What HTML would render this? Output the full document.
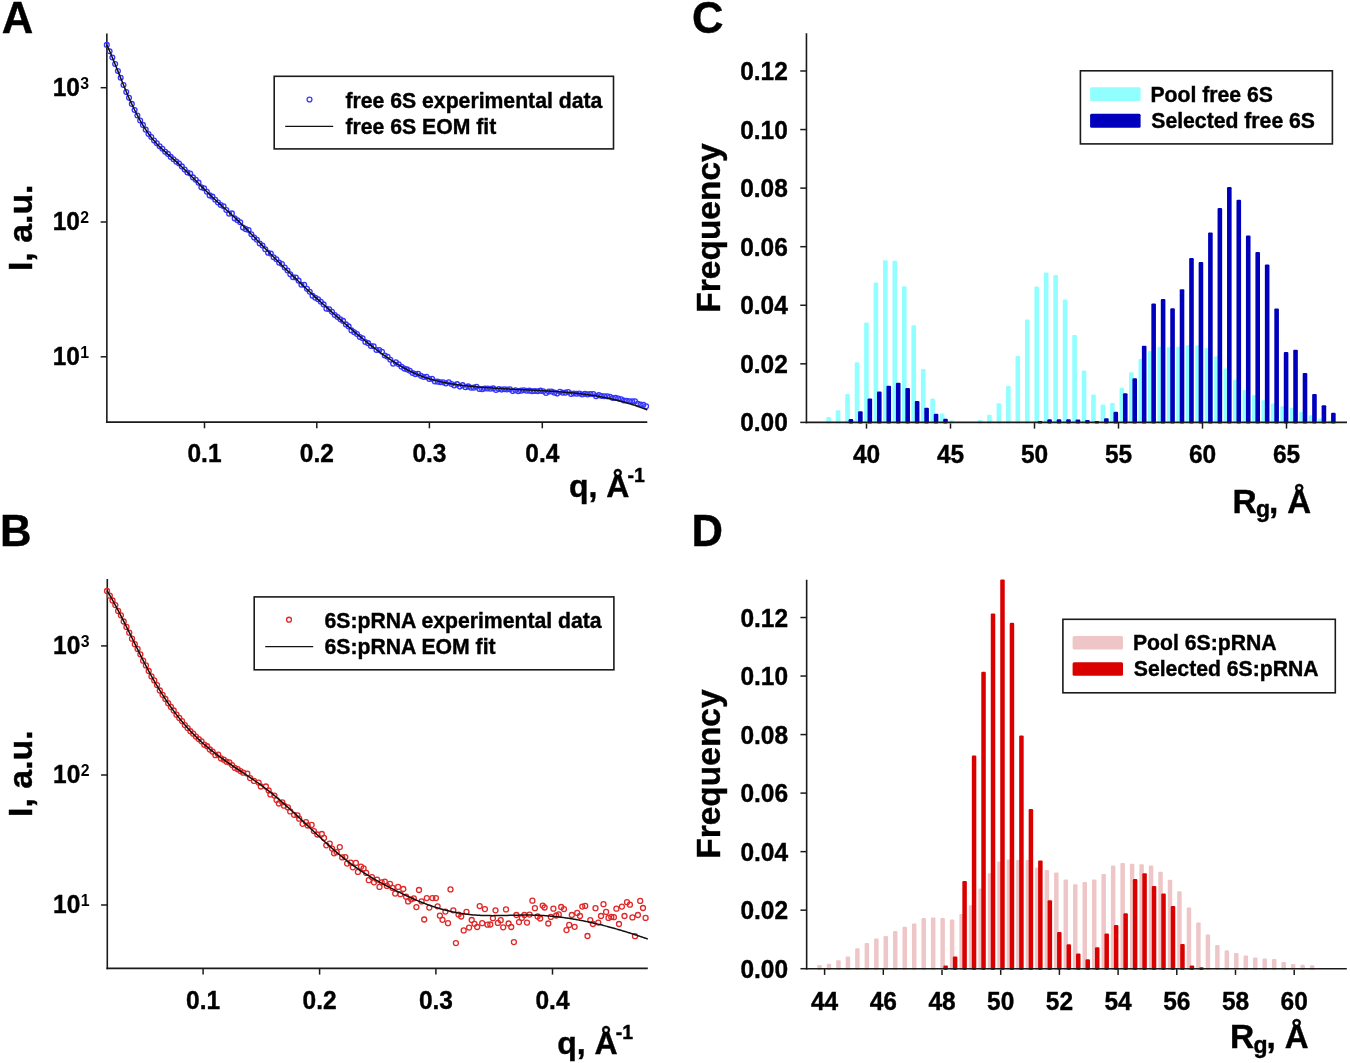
<!DOCTYPE html>
<html><head><meta charset="utf-8"><style>
html,body{margin:0;padding:0;background:#fff;width:1350px;height:1063px;overflow:hidden}
svg{display:block;will-change:transform}
</style></head><body>
<svg width="1350" height="1063" viewBox="0 0 1350 1063">
<rect width="1350" height="1063" fill="#fff"/>
<text x="1.77" y="32.90" font-size="43.6" text-anchor="start" font-family="Liberation Sans, sans-serif" font-weight="bold" stroke="#000" stroke-width="0.4">A</text>
<text x="-0.12" y="545.70" font-size="43.6" text-anchor="start" font-family="Liberation Sans, sans-serif" font-weight="bold" stroke="#000" stroke-width="0.4">B</text>
<text x="691.92" y="33.30" font-size="43.6" text-anchor="start" font-family="Liberation Sans, sans-serif" font-weight="bold" stroke="#000" stroke-width="0.4">C</text>
<text x="691.48" y="545.70" font-size="43.6" text-anchor="start" font-family="Liberation Sans, sans-serif" font-weight="bold" stroke="#000" stroke-width="0.4">D</text>
<line x1="106.85" y1="33.40" x2="106.85" y2="423.00" stroke="#1a1a1a" stroke-width="1.6"/>
<line x1="105.95" y1="422.10" x2="647.30" y2="422.10" stroke="#1a1a1a" stroke-width="1.6"/>
<line x1="204.50" y1="422.10" x2="204.50" y2="428.30" stroke="#1a1a1a" stroke-width="1.5"/>
<text transform="translate(204.50,462.40) scale(0.96,1)" x="0" y="0" font-size="25.5" text-anchor="middle" font-family="Liberation Sans, sans-serif" font-weight="bold" stroke="#000" stroke-width="0.4">0.1</text>
<line x1="316.80" y1="422.10" x2="316.80" y2="428.30" stroke="#1a1a1a" stroke-width="1.5"/>
<text transform="translate(316.80,462.40) scale(0.96,1)" x="0" y="0" font-size="25.5" text-anchor="middle" font-family="Liberation Sans, sans-serif" font-weight="bold" stroke="#000" stroke-width="0.4">0.2</text>
<line x1="429.40" y1="422.10" x2="429.40" y2="428.30" stroke="#1a1a1a" stroke-width="1.5"/>
<text transform="translate(429.40,462.40) scale(0.96,1)" x="0" y="0" font-size="25.5" text-anchor="middle" font-family="Liberation Sans, sans-serif" font-weight="bold" stroke="#000" stroke-width="0.4">0.3</text>
<line x1="542.30" y1="422.10" x2="542.30" y2="428.30" stroke="#1a1a1a" stroke-width="1.5"/>
<text transform="translate(542.30,462.40) scale(0.96,1)" x="0" y="0" font-size="25.5" text-anchor="middle" font-family="Liberation Sans, sans-serif" font-weight="bold" stroke="#000" stroke-width="0.4">0.4</text>
<line x1="100.65" y1="87.70" x2="106.85" y2="87.70" stroke="#1a1a1a" stroke-width="1.5"/>
<text transform="translate(79.85,95.70) scale(0.96,1)" x="0" y="0" font-size="25.5" text-anchor="end" font-family="Liberation Sans, sans-serif" font-weight="bold" stroke="#000" stroke-width="0.4">10</text>
<text transform="translate(80.35,88.60) scale(0.96,1)" x="0" y="0" font-size="16.5" text-anchor="start" font-family="Liberation Sans, sans-serif" font-weight="bold" stroke="#000" stroke-width="0">3</text>
<line x1="100.65" y1="222.00" x2="106.85" y2="222.00" stroke="#1a1a1a" stroke-width="1.5"/>
<text transform="translate(79.85,230.00) scale(0.96,1)" x="0" y="0" font-size="25.5" text-anchor="end" font-family="Liberation Sans, sans-serif" font-weight="bold" stroke="#000" stroke-width="0.4">10</text>
<text transform="translate(80.35,222.90) scale(0.96,1)" x="0" y="0" font-size="16.5" text-anchor="start" font-family="Liberation Sans, sans-serif" font-weight="bold" stroke="#000" stroke-width="0">2</text>
<line x1="100.65" y1="356.80" x2="106.85" y2="356.80" stroke="#1a1a1a" stroke-width="1.5"/>
<text transform="translate(79.85,364.80) scale(0.96,1)" x="0" y="0" font-size="25.5" text-anchor="end" font-family="Liberation Sans, sans-serif" font-weight="bold" stroke="#000" stroke-width="0.4">10</text>
<text transform="translate(80.35,357.70) scale(0.96,1)" x="0" y="0" font-size="16.5" text-anchor="start" font-family="Liberation Sans, sans-serif" font-weight="bold" stroke="#000" stroke-width="0">1</text>
<line x1="107.30" y1="579.10" x2="107.30" y2="969.30" stroke="#1a1a1a" stroke-width="1.6"/>
<line x1="106.40" y1="968.40" x2="647.80" y2="968.40" stroke="#1a1a1a" stroke-width="1.6"/>
<line x1="203.10" y1="968.40" x2="203.10" y2="974.60" stroke="#1a1a1a" stroke-width="1.5"/>
<text transform="translate(203.10,1008.80) scale(0.96,1)" x="0" y="0" font-size="25.5" text-anchor="middle" font-family="Liberation Sans, sans-serif" font-weight="bold" stroke="#000" stroke-width="0.4">0.1</text>
<line x1="319.60" y1="968.40" x2="319.60" y2="974.60" stroke="#1a1a1a" stroke-width="1.5"/>
<text transform="translate(319.60,1008.80) scale(0.96,1)" x="0" y="0" font-size="25.5" text-anchor="middle" font-family="Liberation Sans, sans-serif" font-weight="bold" stroke="#000" stroke-width="0.4">0.2</text>
<line x1="435.90" y1="968.40" x2="435.90" y2="974.60" stroke="#1a1a1a" stroke-width="1.5"/>
<text transform="translate(435.90,1008.80) scale(0.96,1)" x="0" y="0" font-size="25.5" text-anchor="middle" font-family="Liberation Sans, sans-serif" font-weight="bold" stroke="#000" stroke-width="0.4">0.3</text>
<line x1="552.50" y1="968.40" x2="552.50" y2="974.60" stroke="#1a1a1a" stroke-width="1.5"/>
<text transform="translate(552.50,1008.80) scale(0.96,1)" x="0" y="0" font-size="25.5" text-anchor="middle" font-family="Liberation Sans, sans-serif" font-weight="bold" stroke="#000" stroke-width="0.4">0.4</text>
<line x1="101.10" y1="645.90" x2="107.30" y2="645.90" stroke="#1a1a1a" stroke-width="1.5"/>
<text transform="translate(80.30,653.90) scale(0.96,1)" x="0" y="0" font-size="25.5" text-anchor="end" font-family="Liberation Sans, sans-serif" font-weight="bold" stroke="#000" stroke-width="0.4">10</text>
<text transform="translate(80.80,646.80) scale(0.96,1)" x="0" y="0" font-size="16.5" text-anchor="start" font-family="Liberation Sans, sans-serif" font-weight="bold" stroke="#000" stroke-width="0">3</text>
<line x1="101.10" y1="775.00" x2="107.30" y2="775.00" stroke="#1a1a1a" stroke-width="1.5"/>
<text transform="translate(80.30,783.00) scale(0.96,1)" x="0" y="0" font-size="25.5" text-anchor="end" font-family="Liberation Sans, sans-serif" font-weight="bold" stroke="#000" stroke-width="0.4">10</text>
<text transform="translate(80.80,775.90) scale(0.96,1)" x="0" y="0" font-size="16.5" text-anchor="start" font-family="Liberation Sans, sans-serif" font-weight="bold" stroke="#000" stroke-width="0">2</text>
<line x1="101.10" y1="905.00" x2="107.30" y2="905.00" stroke="#1a1a1a" stroke-width="1.5"/>
<text transform="translate(80.30,913.00) scale(0.96,1)" x="0" y="0" font-size="25.5" text-anchor="end" font-family="Liberation Sans, sans-serif" font-weight="bold" stroke="#000" stroke-width="0.4">10</text>
<text transform="translate(80.80,905.90) scale(0.96,1)" x="0" y="0" font-size="16.5" text-anchor="start" font-family="Liberation Sans, sans-serif" font-weight="bold" stroke="#000" stroke-width="0">1</text>
<line x1="806.45" y1="33.20" x2="806.45" y2="423.20" stroke="#1a1a1a" stroke-width="1.6"/>
<line x1="866.50" y1="422.40" x2="866.50" y2="428.60" stroke="#1a1a1a" stroke-width="1.5"/>
<text transform="translate(866.50,463.40) scale(0.96,1)" x="0" y="0" font-size="25.5" text-anchor="middle" font-family="Liberation Sans, sans-serif" font-weight="bold" stroke="#000" stroke-width="0.4">40</text>
<line x1="950.50" y1="422.40" x2="950.50" y2="428.60" stroke="#1a1a1a" stroke-width="1.5"/>
<text transform="translate(950.50,463.40) scale(0.96,1)" x="0" y="0" font-size="25.5" text-anchor="middle" font-family="Liberation Sans, sans-serif" font-weight="bold" stroke="#000" stroke-width="0.4">45</text>
<line x1="1034.50" y1="422.40" x2="1034.50" y2="428.60" stroke="#1a1a1a" stroke-width="1.5"/>
<text transform="translate(1034.50,463.40) scale(0.96,1)" x="0" y="0" font-size="25.5" text-anchor="middle" font-family="Liberation Sans, sans-serif" font-weight="bold" stroke="#000" stroke-width="0.4">50</text>
<line x1="1118.50" y1="422.40" x2="1118.50" y2="428.60" stroke="#1a1a1a" stroke-width="1.5"/>
<text transform="translate(1118.50,463.40) scale(0.96,1)" x="0" y="0" font-size="25.5" text-anchor="middle" font-family="Liberation Sans, sans-serif" font-weight="bold" stroke="#000" stroke-width="0.4">55</text>
<line x1="1202.50" y1="422.40" x2="1202.50" y2="428.60" stroke="#1a1a1a" stroke-width="1.5"/>
<text transform="translate(1202.50,463.40) scale(0.96,1)" x="0" y="0" font-size="25.5" text-anchor="middle" font-family="Liberation Sans, sans-serif" font-weight="bold" stroke="#000" stroke-width="0.4">60</text>
<line x1="1286.50" y1="422.40" x2="1286.50" y2="428.60" stroke="#1a1a1a" stroke-width="1.5"/>
<text transform="translate(1286.50,463.40) scale(0.96,1)" x="0" y="0" font-size="25.5" text-anchor="middle" font-family="Liberation Sans, sans-serif" font-weight="bold" stroke="#000" stroke-width="0.4">65</text>
<line x1="800.25" y1="422.40" x2="806.45" y2="422.40" stroke="#1a1a1a" stroke-width="1.5"/>
<text transform="translate(787.85,431.40) scale(0.96,1)" x="0" y="0" font-size="25.5" text-anchor="end" font-family="Liberation Sans, sans-serif" font-weight="bold" stroke="#000" stroke-width="0.4">0.00</text>
<line x1="800.25" y1="363.83" x2="806.45" y2="363.83" stroke="#1a1a1a" stroke-width="1.5"/>
<text transform="translate(787.85,372.83) scale(0.96,1)" x="0" y="0" font-size="25.5" text-anchor="end" font-family="Liberation Sans, sans-serif" font-weight="bold" stroke="#000" stroke-width="0.4">0.02</text>
<line x1="800.25" y1="305.26" x2="806.45" y2="305.26" stroke="#1a1a1a" stroke-width="1.5"/>
<text transform="translate(787.85,314.26) scale(0.96,1)" x="0" y="0" font-size="25.5" text-anchor="end" font-family="Liberation Sans, sans-serif" font-weight="bold" stroke="#000" stroke-width="0.4">0.04</text>
<line x1="800.25" y1="246.69" x2="806.45" y2="246.69" stroke="#1a1a1a" stroke-width="1.5"/>
<text transform="translate(787.85,255.69) scale(0.96,1)" x="0" y="0" font-size="25.5" text-anchor="end" font-family="Liberation Sans, sans-serif" font-weight="bold" stroke="#000" stroke-width="0.4">0.06</text>
<line x1="800.25" y1="188.12" x2="806.45" y2="188.12" stroke="#1a1a1a" stroke-width="1.5"/>
<text transform="translate(787.85,197.12) scale(0.96,1)" x="0" y="0" font-size="25.5" text-anchor="end" font-family="Liberation Sans, sans-serif" font-weight="bold" stroke="#000" stroke-width="0.4">0.08</text>
<line x1="800.25" y1="129.55" x2="806.45" y2="129.55" stroke="#1a1a1a" stroke-width="1.5"/>
<text transform="translate(787.85,138.55) scale(0.96,1)" x="0" y="0" font-size="25.5" text-anchor="end" font-family="Liberation Sans, sans-serif" font-weight="bold" stroke="#000" stroke-width="0.4">0.10</text>
<line x1="800.25" y1="70.98" x2="806.45" y2="70.98" stroke="#1a1a1a" stroke-width="1.5"/>
<text transform="translate(787.85,79.98) scale(0.96,1)" x="0" y="0" font-size="25.5" text-anchor="end" font-family="Liberation Sans, sans-serif" font-weight="bold" stroke="#000" stroke-width="0.4">0.12</text>
<line x1="806.65" y1="579.80" x2="806.65" y2="969.50" stroke="#1a1a1a" stroke-width="1.6"/>
<line x1="824.60" y1="968.70" x2="824.60" y2="974.90" stroke="#1a1a1a" stroke-width="1.5"/>
<text transform="translate(824.60,1009.70) scale(0.96,1)" x="0" y="0" font-size="25.5" text-anchor="middle" font-family="Liberation Sans, sans-serif" font-weight="bold" stroke="#000" stroke-width="0.4">44</text>
<line x1="883.30" y1="968.70" x2="883.30" y2="974.90" stroke="#1a1a1a" stroke-width="1.5"/>
<text transform="translate(883.30,1009.70) scale(0.96,1)" x="0" y="0" font-size="25.5" text-anchor="middle" font-family="Liberation Sans, sans-serif" font-weight="bold" stroke="#000" stroke-width="0.4">46</text>
<line x1="942.00" y1="968.70" x2="942.00" y2="974.90" stroke="#1a1a1a" stroke-width="1.5"/>
<text transform="translate(942.00,1009.70) scale(0.96,1)" x="0" y="0" font-size="25.5" text-anchor="middle" font-family="Liberation Sans, sans-serif" font-weight="bold" stroke="#000" stroke-width="0.4">48</text>
<line x1="1000.70" y1="968.70" x2="1000.70" y2="974.90" stroke="#1a1a1a" stroke-width="1.5"/>
<text transform="translate(1000.70,1009.70) scale(0.96,1)" x="0" y="0" font-size="25.5" text-anchor="middle" font-family="Liberation Sans, sans-serif" font-weight="bold" stroke="#000" stroke-width="0.4">50</text>
<line x1="1059.40" y1="968.70" x2="1059.40" y2="974.90" stroke="#1a1a1a" stroke-width="1.5"/>
<text transform="translate(1059.40,1009.70) scale(0.96,1)" x="0" y="0" font-size="25.5" text-anchor="middle" font-family="Liberation Sans, sans-serif" font-weight="bold" stroke="#000" stroke-width="0.4">52</text>
<line x1="1118.10" y1="968.70" x2="1118.10" y2="974.90" stroke="#1a1a1a" stroke-width="1.5"/>
<text transform="translate(1118.10,1009.70) scale(0.96,1)" x="0" y="0" font-size="25.5" text-anchor="middle" font-family="Liberation Sans, sans-serif" font-weight="bold" stroke="#000" stroke-width="0.4">54</text>
<line x1="1176.80" y1="968.70" x2="1176.80" y2="974.90" stroke="#1a1a1a" stroke-width="1.5"/>
<text transform="translate(1176.80,1009.70) scale(0.96,1)" x="0" y="0" font-size="25.5" text-anchor="middle" font-family="Liberation Sans, sans-serif" font-weight="bold" stroke="#000" stroke-width="0.4">56</text>
<line x1="1235.50" y1="968.70" x2="1235.50" y2="974.90" stroke="#1a1a1a" stroke-width="1.5"/>
<text transform="translate(1235.50,1009.70) scale(0.96,1)" x="0" y="0" font-size="25.5" text-anchor="middle" font-family="Liberation Sans, sans-serif" font-weight="bold" stroke="#000" stroke-width="0.4">58</text>
<line x1="1294.20" y1="968.70" x2="1294.20" y2="974.90" stroke="#1a1a1a" stroke-width="1.5"/>
<text transform="translate(1294.20,1009.70) scale(0.96,1)" x="0" y="0" font-size="25.5" text-anchor="middle" font-family="Liberation Sans, sans-serif" font-weight="bold" stroke="#000" stroke-width="0.4">60</text>
<line x1="800.45" y1="968.70" x2="806.65" y2="968.70" stroke="#1a1a1a" stroke-width="1.5"/>
<text transform="translate(788.05,977.70) scale(0.96,1)" x="0" y="0" font-size="25.5" text-anchor="end" font-family="Liberation Sans, sans-serif" font-weight="bold" stroke="#000" stroke-width="0.4">0.00</text>
<line x1="800.45" y1="910.17" x2="806.65" y2="910.17" stroke="#1a1a1a" stroke-width="1.5"/>
<text transform="translate(788.05,919.17) scale(0.96,1)" x="0" y="0" font-size="25.5" text-anchor="end" font-family="Liberation Sans, sans-serif" font-weight="bold" stroke="#000" stroke-width="0.4">0.02</text>
<line x1="800.45" y1="851.64" x2="806.65" y2="851.64" stroke="#1a1a1a" stroke-width="1.5"/>
<text transform="translate(788.05,860.64) scale(0.96,1)" x="0" y="0" font-size="25.5" text-anchor="end" font-family="Liberation Sans, sans-serif" font-weight="bold" stroke="#000" stroke-width="0.4">0.04</text>
<line x1="800.45" y1="793.11" x2="806.65" y2="793.11" stroke="#1a1a1a" stroke-width="1.5"/>
<text transform="translate(788.05,802.11) scale(0.96,1)" x="0" y="0" font-size="25.5" text-anchor="end" font-family="Liberation Sans, sans-serif" font-weight="bold" stroke="#000" stroke-width="0.4">0.06</text>
<line x1="800.45" y1="734.58" x2="806.65" y2="734.58" stroke="#1a1a1a" stroke-width="1.5"/>
<text transform="translate(788.05,743.58) scale(0.96,1)" x="0" y="0" font-size="25.5" text-anchor="end" font-family="Liberation Sans, sans-serif" font-weight="bold" stroke="#000" stroke-width="0.4">0.08</text>
<line x1="800.45" y1="676.05" x2="806.65" y2="676.05" stroke="#1a1a1a" stroke-width="1.5"/>
<text transform="translate(788.05,685.05) scale(0.96,1)" x="0" y="0" font-size="25.5" text-anchor="end" font-family="Liberation Sans, sans-serif" font-weight="bold" stroke="#000" stroke-width="0.4">0.10</text>
<line x1="800.45" y1="617.52" x2="806.65" y2="617.52" stroke="#1a1a1a" stroke-width="1.5"/>
<text transform="translate(788.05,626.52) scale(0.96,1)" x="0" y="0" font-size="25.5" text-anchor="end" font-family="Liberation Sans, sans-serif" font-weight="bold" stroke="#000" stroke-width="0.4">0.12</text>
<text transform="translate(32,271.1) rotate(-90)" font-size="33.9" font-family="Liberation Sans, sans-serif" font-weight="bold" stroke="#000" stroke-width="0.4">I, a.u.</text>
<text transform="translate(32,816.9) rotate(-90)" font-size="33.9" font-family="Liberation Sans, sans-serif" font-weight="bold" stroke="#000" stroke-width="0.4">I, a.u.</text>
<text transform="translate(720.4,312.7) rotate(-90)" font-size="33.5" font-family="Liberation Sans, sans-serif" font-weight="bold" stroke="#000" stroke-width="0.4">Frequency</text>
<text transform="translate(720.4,858.8) rotate(-90)" font-size="33.5" font-family="Liberation Sans, sans-serif" font-weight="bold" stroke="#000" stroke-width="0.4">Frequency</text>
<text x="569.00" y="497.40" font-size="32" text-anchor="start" font-family="Liberation Sans, sans-serif" font-weight="bold" stroke="#000" stroke-width="0.4">q, Å</text>
<text x="627.50" y="481.90" font-size="19.5" text-anchor="start" font-family="Liberation Sans, sans-serif" font-weight="bold" stroke="#000" stroke-width="0.4">-1</text>
<text x="557.20" y="1054.00" font-size="32" text-anchor="start" font-family="Liberation Sans, sans-serif" font-weight="bold" stroke="#000" stroke-width="0.4">q, Å</text>
<text x="615.70" y="1038.50" font-size="19.5" text-anchor="start" font-family="Liberation Sans, sans-serif" font-weight="bold" stroke="#000" stroke-width="0.4">-1</text>
<text x="1232.46" y="512.50" font-size="33.5" text-anchor="start" font-family="Liberation Sans, sans-serif" font-weight="bold" stroke="#000" stroke-width="0.4">R</text>
<text x="1256.06" y="517.40" font-size="23" text-anchor="start" font-family="Liberation Sans, sans-serif" font-weight="bold" stroke="#000" stroke-width="0.4">g</text>
<text x="1269.02" y="512.50" font-size="33.5" text-anchor="start" font-family="Liberation Sans, sans-serif" font-weight="bold" stroke="#000" stroke-width="0.4">,</text>
<text x="1287.17" y="512.50" font-size="33" text-anchor="start" font-family="Liberation Sans, sans-serif" font-weight="bold" stroke="#000" stroke-width="0.4">Å</text>
<text x="1229.96" y="1048.40" font-size="33.5" text-anchor="start" font-family="Liberation Sans, sans-serif" font-weight="bold" stroke="#000" stroke-width="0.4">R</text>
<text x="1253.56" y="1053.30" font-size="23" text-anchor="start" font-family="Liberation Sans, sans-serif" font-weight="bold" stroke="#000" stroke-width="0.4">g</text>
<text x="1266.52" y="1048.40" font-size="33.5" text-anchor="start" font-family="Liberation Sans, sans-serif" font-weight="bold" stroke="#000" stroke-width="0.4">,</text>
<text x="1284.67" y="1048.40" font-size="33" text-anchor="start" font-family="Liberation Sans, sans-serif" font-weight="bold" stroke="#000" stroke-width="0.4">Å</text>
<rect x="274.20" y="76.30" width="339.30" height="72.60" fill="none" stroke="#1a1a1a" stroke-width="1.6"/>
<circle cx="309.5" cy="99.5" r="2.45" fill="none" stroke="#3c3cff" stroke-width="1.3"/>
<line x1="285.20" y1="126.40" x2="333.20" y2="126.40" stroke="#111" stroke-width="1.3"/>
<text x="345.54" y="107.80" font-size="21.2" text-anchor="start" font-family="Liberation Sans, sans-serif" font-weight="bold" stroke="#000" stroke-width="0.4">free 6S experimental data</text>
<text x="345.54" y="133.60" font-size="21.2" text-anchor="start" font-family="Liberation Sans, sans-serif" font-weight="bold" stroke="#000" stroke-width="0.4">free 6S EOM fit</text>
<rect x="254.20" y="596.90" width="359.70" height="72.90" fill="none" stroke="#1a1a1a" stroke-width="1.6"/>
<circle cx="289.0" cy="619.7" r="2.45" fill="none" stroke="#e02828" stroke-width="1.3"/>
<line x1="265.20" y1="646.70" x2="313.20" y2="646.70" stroke="#111" stroke-width="1.3"/>
<text x="324.52" y="627.80" font-size="21.2" text-anchor="start" font-family="Liberation Sans, sans-serif" font-weight="bold" stroke="#000" stroke-width="0.4">6S:pRNA experimental data</text>
<text x="324.52" y="653.90" font-size="21.2" text-anchor="start" font-family="Liberation Sans, sans-serif" font-weight="bold" stroke="#000" stroke-width="0.4">6S:pRNA EOM fit</text>
<rect x="1080.40" y="70.80" width="252.00" height="73.10" fill="none" stroke="#1a1a1a" stroke-width="1.6"/>
<rect x="1090.1" y="87.2" width="50.5" height="13.9" rx="1.5" fill="#91ffff"/>
<rect x="1090.1" y="113.8" width="50.5" height="14" rx="1.5" fill="#0000bc"/>
<text x="1150.48" y="101.60" font-size="21.2" text-anchor="start" font-family="Liberation Sans, sans-serif" font-weight="bold" stroke="#000" stroke-width="0.4">Pool free 6S</text>
<text x="1151.29" y="127.80" font-size="21.2" text-anchor="start" font-family="Liberation Sans, sans-serif" font-weight="bold" stroke="#000" stroke-width="0.4">Selected free 6S</text>
<rect x="1062.90" y="619.30" width="272.40" height="73.50" fill="none" stroke="#1a1a1a" stroke-width="1.6"/>
<rect x="1072.6" y="635.9" width="50.4" height="13.5" rx="1.5" fill="#efc6c7"/>
<rect x="1072.6" y="662.3" width="50.4" height="13.5" rx="1.5" fill="#da0000"/>
<text x="1132.98" y="650.00" font-size="21.2" text-anchor="start" font-family="Liberation Sans, sans-serif" font-weight="bold" stroke="#000" stroke-width="0.4">Pool 6S:pRNA</text>
<text x="1133.79" y="676.30" font-size="21.2" text-anchor="start" font-family="Liberation Sans, sans-serif" font-weight="bold" stroke="#000" stroke-width="0.4">Selected 6S:pRNA</text>
<g fill="none" stroke="#3434ff" stroke-width="1.3"><circle cx="106.80" cy="44.91" r="2.4"/><circle cx="109.58" cy="51.18" r="2.4"/><circle cx="112.36" cy="57.48" r="2.4"/><circle cx="115.14" cy="64.01" r="2.4"/><circle cx="117.92" cy="71.04" r="2.4"/><circle cx="120.70" cy="77.76" r="2.4"/><circle cx="123.48" cy="84.97" r="2.4"/><circle cx="126.26" cy="92.09" r="2.4"/><circle cx="129.04" cy="97.85" r="2.4"/><circle cx="131.82" cy="103.90" r="2.4"/><circle cx="134.60" cy="110.07" r="2.4"/><circle cx="137.38" cy="115.48" r="2.4"/><circle cx="140.16" cy="120.51" r="2.4"/><circle cx="142.94" cy="124.92" r="2.4"/><circle cx="145.72" cy="129.65" r="2.4"/><circle cx="148.50" cy="133.97" r="2.4"/><circle cx="151.28" cy="136.95" r="2.4"/><circle cx="154.06" cy="140.62" r="2.4"/><circle cx="156.84" cy="143.20" r="2.4"/><circle cx="159.62" cy="146.26" r="2.4"/><circle cx="162.40" cy="148.73" r="2.4"/><circle cx="165.18" cy="151.83" r="2.4"/><circle cx="167.96" cy="153.92" r="2.4"/><circle cx="170.74" cy="156.89" r="2.4"/><circle cx="173.52" cy="159.29" r="2.4"/><circle cx="176.30" cy="161.67" r="2.4"/><circle cx="179.08" cy="163.43" r="2.4"/><circle cx="181.86" cy="166.41" r="2.4"/><circle cx="184.64" cy="169.58" r="2.4"/><circle cx="187.42" cy="172.47" r="2.4"/><circle cx="190.20" cy="173.58" r="2.4"/><circle cx="192.98" cy="177.41" r="2.4"/><circle cx="195.76" cy="179.71" r="2.4"/><circle cx="198.54" cy="182.67" r="2.4"/><circle cx="201.32" cy="187.33" r="2.4"/><circle cx="204.10" cy="188.24" r="2.4"/><circle cx="206.88" cy="191.77" r="2.4"/><circle cx="209.66" cy="195.41" r="2.4"/><circle cx="212.44" cy="196.63" r="2.4"/><circle cx="215.22" cy="199.73" r="2.4"/><circle cx="218.00" cy="202.52" r="2.4"/><circle cx="220.78" cy="205.01" r="2.4"/><circle cx="223.56" cy="206.22" r="2.4"/><circle cx="226.34" cy="210.02" r="2.4"/><circle cx="229.12" cy="213.80" r="2.4"/><circle cx="231.90" cy="213.42" r="2.4"/><circle cx="234.68" cy="218.39" r="2.4"/><circle cx="237.46" cy="220.27" r="2.4"/><circle cx="240.24" cy="222.20" r="2.4"/><circle cx="243.02" cy="227.60" r="2.4"/><circle cx="245.80" cy="229.17" r="2.4"/><circle cx="248.58" cy="230.05" r="2.4"/><circle cx="251.36" cy="234.20" r="2.4"/><circle cx="254.14" cy="237.60" r="2.4"/><circle cx="256.92" cy="239.73" r="2.4"/><circle cx="259.70" cy="243.49" r="2.4"/><circle cx="262.48" cy="245.61" r="2.4"/><circle cx="265.26" cy="249.19" r="2.4"/><circle cx="268.04" cy="252.80" r="2.4"/><circle cx="270.82" cy="253.50" r="2.4"/><circle cx="273.60" cy="257.18" r="2.4"/><circle cx="276.38" cy="259.30" r="2.4"/><circle cx="279.16" cy="262.65" r="2.4"/><circle cx="281.94" cy="264.09" r="2.4"/><circle cx="284.72" cy="267.43" r="2.4"/><circle cx="287.50" cy="270.53" r="2.4"/><circle cx="290.28" cy="274.33" r="2.4"/><circle cx="293.06" cy="277.26" r="2.4"/><circle cx="295.84" cy="277.46" r="2.4"/><circle cx="298.62" cy="280.64" r="2.4"/><circle cx="301.40" cy="284.72" r="2.4"/><circle cx="304.18" cy="284.71" r="2.4"/><circle cx="306.96" cy="288.84" r="2.4"/><circle cx="309.74" cy="291.81" r="2.4"/><circle cx="312.52" cy="295.74" r="2.4"/><circle cx="315.30" cy="297.74" r="2.4"/><circle cx="318.08" cy="299.28" r="2.4"/><circle cx="320.86" cy="301.78" r="2.4"/><circle cx="323.64" cy="304.42" r="2.4"/><circle cx="326.42" cy="308.71" r="2.4"/><circle cx="329.20" cy="309.26" r="2.4"/><circle cx="331.98" cy="311.87" r="2.4"/><circle cx="334.76" cy="315.00" r="2.4"/><circle cx="337.54" cy="316.99" r="2.4"/><circle cx="340.32" cy="319.37" r="2.4"/><circle cx="343.10" cy="320.89" r="2.4"/><circle cx="345.88" cy="324.42" r="2.4"/><circle cx="348.66" cy="326.40" r="2.4"/><circle cx="351.44" cy="330.41" r="2.4"/><circle cx="354.22" cy="332.28" r="2.4"/><circle cx="357.00" cy="333.96" r="2.4"/><circle cx="359.78" cy="336.99" r="2.4"/><circle cx="362.56" cy="338.29" r="2.4"/><circle cx="365.34" cy="341.96" r="2.4"/><circle cx="368.12" cy="343.15" r="2.4"/><circle cx="370.90" cy="345.95" r="2.4"/><circle cx="373.68" cy="346.24" r="2.4"/><circle cx="376.46" cy="350.01" r="2.4"/><circle cx="379.24" cy="350.06" r="2.4"/><circle cx="382.02" cy="351.76" r="2.4"/><circle cx="384.80" cy="355.48" r="2.4"/><circle cx="387.58" cy="356.82" r="2.4"/><circle cx="390.36" cy="359.77" r="2.4"/><circle cx="393.14" cy="363.68" r="2.4"/><circle cx="395.92" cy="362.37" r="2.4"/><circle cx="398.70" cy="364.28" r="2.4"/><circle cx="401.48" cy="366.74" r="2.4"/><circle cx="404.26" cy="368.60" r="2.4"/><circle cx="407.04" cy="369.42" r="2.4"/><circle cx="409.82" cy="370.81" r="2.4"/><circle cx="412.60" cy="373.07" r="2.4"/><circle cx="415.38" cy="374.15" r="2.4"/><circle cx="418.16" cy="373.77" r="2.4"/><circle cx="420.94" cy="375.83" r="2.4"/><circle cx="423.72" cy="376.97" r="2.4"/><circle cx="426.50" cy="376.84" r="2.4"/><circle cx="429.28" cy="379.04" r="2.4"/><circle cx="432.06" cy="378.84" r="2.4"/><circle cx="434.84" cy="381.57" r="2.4"/><circle cx="437.62" cy="381.63" r="2.4"/><circle cx="440.40" cy="382.32" r="2.4"/><circle cx="443.18" cy="382.37" r="2.4"/><circle cx="445.96" cy="383.54" r="2.4"/><circle cx="448.74" cy="382.30" r="2.4"/><circle cx="451.52" cy="384.04" r="2.4"/><circle cx="454.30" cy="385.52" r="2.4"/><circle cx="457.08" cy="384.17" r="2.4"/><circle cx="459.86" cy="386.62" r="2.4"/><circle cx="462.64" cy="385.15" r="2.4"/><circle cx="465.42" cy="387.22" r="2.4"/><circle cx="468.20" cy="386.40" r="2.4"/><circle cx="470.98" cy="387.82" r="2.4"/><circle cx="473.76" cy="387.64" r="2.4"/><circle cx="476.54" cy="386.73" r="2.4"/><circle cx="479.32" cy="388.93" r="2.4"/><circle cx="482.10" cy="389.29" r="2.4"/><circle cx="484.88" cy="388.46" r="2.4"/><circle cx="487.66" cy="388.52" r="2.4"/><circle cx="490.44" cy="388.80" r="2.4"/><circle cx="493.22" cy="388.42" r="2.4"/><circle cx="496.00" cy="390.05" r="2.4"/><circle cx="498.78" cy="389.08" r="2.4"/><circle cx="501.56" cy="389.58" r="2.4"/><circle cx="504.34" cy="389.22" r="2.4"/><circle cx="507.12" cy="389.49" r="2.4"/><circle cx="509.90" cy="389.19" r="2.4"/><circle cx="512.68" cy="391.11" r="2.4"/><circle cx="515.46" cy="390.26" r="2.4"/><circle cx="518.24" cy="391.18" r="2.4"/><circle cx="521.02" cy="390.65" r="2.4"/><circle cx="523.80" cy="390.29" r="2.4"/><circle cx="526.58" cy="390.68" r="2.4"/><circle cx="529.36" cy="390.65" r="2.4"/><circle cx="532.14" cy="391.19" r="2.4"/><circle cx="534.92" cy="391.06" r="2.4"/><circle cx="537.70" cy="391.25" r="2.4"/><circle cx="540.48" cy="390.64" r="2.4"/><circle cx="543.26" cy="391.19" r="2.4"/><circle cx="546.04" cy="393.07" r="2.4"/><circle cx="548.82" cy="391.60" r="2.4"/><circle cx="551.60" cy="391.51" r="2.4"/><circle cx="554.38" cy="392.66" r="2.4"/><circle cx="557.16" cy="393.60" r="2.4"/><circle cx="559.94" cy="391.80" r="2.4"/><circle cx="562.72" cy="392.79" r="2.4"/><circle cx="565.50" cy="392.63" r="2.4"/><circle cx="568.28" cy="391.98" r="2.4"/><circle cx="571.06" cy="393.89" r="2.4"/><circle cx="573.84" cy="393.54" r="2.4"/><circle cx="576.62" cy="393.80" r="2.4"/><circle cx="579.40" cy="393.44" r="2.4"/><circle cx="582.18" cy="394.45" r="2.4"/><circle cx="584.96" cy="393.92" r="2.4"/><circle cx="587.74" cy="394.39" r="2.4"/><circle cx="590.52" cy="393.94" r="2.4"/><circle cx="593.30" cy="394.10" r="2.4"/><circle cx="596.08" cy="396.15" r="2.4"/><circle cx="598.86" cy="395.15" r="2.4"/><circle cx="601.64" cy="396.06" r="2.4"/><circle cx="604.42" cy="396.22" r="2.4"/><circle cx="607.20" cy="396.35" r="2.4"/><circle cx="609.98" cy="396.75" r="2.4"/><circle cx="612.76" cy="398.03" r="2.4"/><circle cx="615.54" cy="397.89" r="2.4"/><circle cx="618.32" cy="398.54" r="2.4"/><circle cx="621.10" cy="399.22" r="2.4"/><circle cx="623.88" cy="400.57" r="2.4"/><circle cx="626.66" cy="400.81" r="2.4"/><circle cx="629.44" cy="401.22" r="2.4"/><circle cx="632.22" cy="401.22" r="2.4"/><circle cx="635.00" cy="401.35" r="2.4"/><circle cx="637.78" cy="403.72" r="2.4"/><circle cx="640.56" cy="404.54" r="2.4"/><circle cx="643.34" cy="404.74" r="2.4"/><circle cx="646.12" cy="406.22" r="2.4"/></g>
<path d="M106.90,45.12 L107.90,47.30 L108.90,49.53 L109.90,51.81 L110.90,54.13 L111.90,56.48 L112.90,58.87 L113.90,61.29 L114.90,63.73 L115.90,66.19 L116.90,68.66 L117.90,71.15 L118.90,73.63 L119.90,76.12 L120.90,78.60 L121.90,81.07 L122.90,83.53 L123.90,85.97 L124.90,88.38 L125.90,90.77 L126.90,93.12 L127.90,95.43 L128.90,97.71 L129.90,99.94 L130.90,102.14 L131.90,104.29 L132.90,106.40 L133.90,108.47 L134.90,110.50 L135.90,112.49 L136.90,114.43 L137.90,116.33 L138.90,118.19 L139.90,120.00 L140.90,121.77 L141.90,123.50 L142.90,125.18 L143.90,126.81 L144.90,128.40 L145.90,129.94 L146.90,131.43 L147.90,132.88 L148.90,134.28 L149.90,135.63 L150.90,136.94 L151.90,138.20 L152.90,139.42 L153.90,140.60 L154.90,141.74 L155.90,142.85 L156.90,143.93 L157.90,144.97 L158.90,145.99 L159.90,146.99 L160.90,147.96 L161.90,148.91 L162.90,149.84 L163.90,150.76 L164.90,151.66 L165.90,152.55 L166.90,153.44 L167.90,154.32 L168.90,155.19 L169.90,156.06 L170.90,156.93 L171.90,157.80 L172.90,158.68 L173.90,159.57 L174.90,160.47 L175.90,161.37 L176.90,162.29 L177.90,163.21 L178.90,164.15 L179.90,165.08 L180.90,166.03 L181.90,166.99 L182.90,167.95 L183.90,168.91 L184.90,169.88 L185.90,170.86 L186.90,171.84 L187.90,172.83 L188.90,173.82 L189.90,174.81 L190.90,175.81 L191.90,176.81 L192.90,177.81 L193.90,178.82 L194.90,179.82 L195.90,180.83 L196.90,181.83 L197.90,182.84 L198.90,183.84 L199.90,184.85 L200.90,185.85 L201.90,186.85 L202.90,187.85 L203.90,188.85 L204.90,189.85 L205.90,190.84 L206.90,191.83 L207.90,192.81 L208.90,193.79 L209.90,194.76 L210.90,195.73 L211.90,196.69 L212.90,197.65 L213.90,198.60 L214.90,199.54 L215.90,200.47 L216.90,201.40 L217.90,202.32 L218.90,203.24 L219.90,204.15 L220.90,205.05 L221.90,205.95 L222.90,206.85 L223.90,207.75 L224.90,208.65 L225.90,209.55 L226.90,210.44 L227.90,211.34 L228.90,212.24 L229.90,213.15 L230.90,214.05 L231.90,214.97 L232.90,215.88 L233.90,216.81 L234.90,217.74 L235.90,218.67 L236.90,219.62 L237.90,220.57 L238.90,221.54 L239.90,222.51 L240.90,223.49 L241.90,224.48 L242.90,225.48 L243.90,226.48 L244.90,227.49 L245.90,228.51 L246.90,229.53 L247.90,230.55 L248.90,231.58 L249.90,232.62 L250.90,233.65 L251.90,234.69 L252.90,235.73 L253.90,236.77 L254.90,237.81 L255.90,238.85 L256.90,239.90 L257.90,240.94 L258.90,241.97 L259.90,243.01 L260.90,244.05 L261.90,245.08 L262.90,246.11 L263.90,247.13 L264.90,248.16 L265.90,249.18 L266.90,250.20 L267.90,251.22 L268.90,252.23 L269.90,253.25 L270.90,254.26 L271.90,255.27 L272.90,256.28 L273.90,257.28 L274.90,258.28 L275.90,259.28 L276.90,260.28 L277.90,261.28 L278.90,262.27 L279.90,263.26 L280.90,264.25 L281.90,265.24 L282.90,266.22 L283.90,267.20 L284.90,268.19 L285.90,269.16 L286.90,270.14 L287.90,271.12 L288.90,272.09 L289.90,273.06 L290.90,274.03 L291.90,274.99 L292.90,275.96 L293.90,276.92 L294.90,277.88 L295.90,278.84 L296.90,279.79 L297.90,280.75 L298.90,281.70 L299.90,282.65 L300.90,283.60 L301.90,284.55 L302.90,285.49 L303.90,286.43 L304.90,287.38 L305.90,288.31 L306.90,289.25 L307.90,290.19 L308.90,291.12 L309.90,292.05 L310.90,292.98 L311.90,293.91 L312.90,294.84 L313.90,295.76 L314.90,296.68 L315.90,297.60 L316.90,298.52 L317.90,299.44 L318.90,300.36 L319.90,301.27 L320.90,302.18 L321.90,303.09 L322.90,304.00 L323.90,304.91 L324.90,305.81 L325.90,306.72 L326.90,307.62 L327.90,308.52 L328.90,309.42 L329.90,310.31 L330.90,311.21 L331.90,312.10 L332.90,312.99 L333.90,313.88 L334.90,314.77 L335.90,315.66 L336.90,316.55 L337.90,317.43 L338.90,318.31 L339.90,319.19 L340.90,320.07 L341.90,320.95 L342.90,321.83 L343.90,322.70 L344.90,323.58 L345.90,324.45 L346.90,325.32 L347.90,326.19 L348.90,327.06 L349.90,327.92 L350.90,328.78 L351.90,329.64 L352.90,330.50 L353.90,331.35 L354.90,332.21 L355.90,333.06 L356.90,333.90 L357.90,334.75 L358.90,335.59 L359.90,336.42 L360.90,337.26 L361.90,338.08 L362.90,338.91 L363.90,339.73 L364.90,340.55 L365.90,341.36 L366.90,342.17 L367.90,342.98 L368.90,343.78 L369.90,344.57 L370.90,345.36 L371.90,346.15 L372.90,346.93 L373.90,347.71 L374.90,348.48 L375.90,349.24 L376.90,350.00 L377.90,350.75 L378.90,351.50 L379.90,352.24 L380.90,352.98 L381.90,353.71 L382.90,354.43 L383.90,355.15 L384.90,355.85 L385.90,356.56 L386.90,357.25 L387.90,357.94 L388.90,358.62 L389.90,359.30 L390.90,359.97 L391.90,360.63 L392.90,361.28 L393.90,361.92 L394.90,362.56 L395.90,363.19 L396.90,363.81 L397.90,364.42 L398.90,365.02 L399.90,365.61 L400.90,366.20 L401.90,366.78 L402.90,367.35 L403.90,367.90 L404.90,368.45 L405.90,368.99 L406.90,369.53 L407.90,370.05 L408.90,370.56 L409.90,371.06 L410.90,371.55 L411.90,372.03 L412.90,372.50 L413.90,372.96 L414.90,373.41 L415.90,373.85 L416.90,374.28 L417.90,374.70 L418.90,375.11 L419.90,375.51 L420.90,375.89 L421.90,376.27 L422.90,376.64 L423.90,377.00 L424.90,377.35 L425.90,377.69 L426.90,378.02 L427.90,378.35 L428.90,378.66 L429.90,378.97 L430.90,379.26 L431.90,379.55 L432.90,379.83 L433.90,380.11 L434.90,380.37 L435.90,380.63 L436.90,380.88 L437.90,381.13 L438.90,381.37 L439.90,381.60 L440.90,381.82 L441.90,382.04 L442.90,382.25 L443.90,382.45 L444.90,382.65 L445.90,382.85 L446.90,383.03 L447.90,383.21 L448.90,383.39 L449.90,383.56 L450.90,383.73 L451.90,383.89 L452.90,384.05 L453.90,384.20 L454.90,384.35 L455.90,384.49 L456.90,384.63 L457.90,384.77 L458.90,384.90 L459.90,385.03 L460.90,385.16 L461.90,385.28 L462.90,385.40 L463.90,385.52 L464.90,385.63 L465.90,385.74 L466.90,385.85 L467.90,385.96 L468.90,386.07 L469.90,386.17 L470.90,386.27 L471.90,386.37 L472.90,386.47 L473.90,386.56 L474.90,386.66 L475.90,386.75 L476.90,386.84 L477.90,386.93 L478.90,387.02 L479.90,387.10 L480.90,387.19 L481.90,387.27 L482.90,387.35 L483.90,387.43 L484.90,387.51 L485.90,387.58 L486.90,387.66 L487.90,387.73 L488.90,387.80 L489.90,387.87 L490.90,387.94 L491.90,388.01 L492.90,388.08 L493.90,388.15 L494.90,388.21 L495.90,388.28 L496.90,388.34 L497.90,388.40 L498.90,388.46 L499.90,388.52 L500.90,388.58 L501.90,388.64 L502.90,388.70 L503.90,388.75 L504.90,388.81 L505.90,388.87 L506.90,388.92 L507.90,388.97 L508.90,389.03 L509.90,389.08 L510.90,389.13 L511.90,389.19 L512.90,389.24 L513.90,389.29 L514.90,389.34 L515.90,389.39 L516.90,389.44 L517.90,389.49 L518.90,389.54 L519.90,389.59 L520.90,389.63 L521.90,389.68 L522.90,389.73 L523.90,389.78 L524.90,389.83 L525.90,389.88 L526.90,389.93 L527.90,389.97 L528.90,390.02 L529.90,390.07 L530.90,390.12 L531.90,390.17 L532.90,390.22 L533.90,390.27 L534.90,390.32 L535.90,390.37 L536.90,390.42 L537.90,390.47 L538.90,390.52 L539.90,390.57 L540.90,390.63 L541.90,390.68 L542.90,390.73 L543.90,390.79 L544.90,390.85 L545.90,390.90 L546.90,390.96 L547.90,391.02 L548.90,391.08 L549.90,391.14 L550.90,391.20 L551.90,391.26 L552.90,391.33 L553.90,391.39 L554.90,391.46 L555.90,391.53 L556.90,391.60 L557.90,391.67 L558.90,391.74 L559.90,391.82 L560.90,391.89 L561.90,391.97 L562.90,392.05 L563.90,392.13 L564.90,392.21 L565.90,392.30 L566.90,392.38 L567.90,392.47 L568.90,392.56 L569.90,392.65 L570.90,392.75 L571.90,392.84 L572.90,392.94 L573.90,393.04 L574.90,393.15 L575.90,393.25 L576.90,393.36 L577.90,393.47 L578.90,393.58 L579.90,393.70 L580.90,393.82 L581.90,393.94 L582.90,394.06 L583.90,394.19 L584.90,394.32 L585.90,394.45 L586.90,394.58 L587.90,394.72 L588.90,394.86 L589.90,395.00 L590.90,395.15 L591.90,395.30 L592.90,395.45 L593.90,395.61 L594.90,395.77 L595.90,395.93 L596.90,396.10 L597.90,396.27 L598.90,396.44 L599.90,396.62 L600.90,396.80 L601.90,396.98 L602.90,397.17 L603.90,397.36 L604.90,397.56 L605.90,397.76 L606.90,397.96 L607.90,398.16 L608.90,398.38 L609.90,398.59 L610.90,398.81 L611.90,399.03 L612.90,399.26 L613.90,399.49 L614.90,399.72 L615.90,399.96 L616.90,400.21 L617.90,400.46 L618.90,400.71 L619.90,400.97 L620.90,401.23 L621.90,401.50 L622.90,401.77 L623.90,402.04 L624.90,402.33 L625.90,402.61 L626.90,402.90 L627.90,403.20 L628.90,403.50 L629.90,403.80 L630.90,404.11 L631.90,404.43 L632.90,404.75 L633.90,405.08 L634.90,405.41 L635.90,405.74 L636.90,406.08 L637.90,406.43 L638.90,406.78 L639.90,407.14 L640.90,407.51 L641.90,407.88 L642.90,408.25 L643.90,408.63 L644.90,409.02 L645.90,409.41 L646.90,409.81 L647.30,409.97" fill="none" stroke="#111" stroke-width="1.5"/>
<g fill="none" stroke="#e02828" stroke-width="1.3"><circle cx="107.00" cy="591.01" r="2.5"/><circle cx="109.78" cy="595.63" r="2.5"/><circle cx="112.56" cy="600.50" r="2.5"/><circle cx="115.34" cy="605.05" r="2.5"/><circle cx="118.12" cy="610.94" r="2.5"/><circle cx="120.90" cy="615.32" r="2.5"/><circle cx="123.68" cy="621.52" r="2.5"/><circle cx="126.46" cy="626.94" r="2.5"/><circle cx="129.24" cy="632.68" r="2.5"/><circle cx="132.02" cy="638.68" r="2.5"/><circle cx="134.80" cy="644.19" r="2.5"/><circle cx="137.58" cy="648.89" r="2.5"/><circle cx="140.36" cy="654.28" r="2.5"/><circle cx="143.14" cy="660.65" r="2.5"/><circle cx="145.92" cy="665.40" r="2.5"/><circle cx="148.70" cy="671.01" r="2.5"/><circle cx="151.48" cy="676.41" r="2.5"/><circle cx="154.26" cy="680.47" r="2.5"/><circle cx="157.04" cy="685.07" r="2.5"/><circle cx="159.82" cy="690.49" r="2.5"/><circle cx="162.60" cy="694.85" r="2.5"/><circle cx="165.38" cy="699.02" r="2.5"/><circle cx="168.16" cy="703.24" r="2.5"/><circle cx="170.94" cy="706.89" r="2.5"/><circle cx="173.72" cy="710.49" r="2.5"/><circle cx="176.50" cy="714.64" r="2.5"/><circle cx="179.28" cy="717.90" r="2.5"/><circle cx="182.06" cy="721.07" r="2.5"/><circle cx="184.84" cy="725.09" r="2.5"/><circle cx="187.62" cy="728.04" r="2.5"/><circle cx="190.40" cy="731.23" r="2.5"/><circle cx="193.18" cy="733.64" r="2.5"/><circle cx="195.96" cy="736.55" r="2.5"/><circle cx="198.74" cy="739.11" r="2.5"/><circle cx="201.52" cy="741.32" r="2.5"/><circle cx="204.30" cy="744.66" r="2.5"/><circle cx="207.08" cy="746.27" r="2.5"/><circle cx="209.86" cy="749.49" r="2.5"/><circle cx="212.64" cy="751.70" r="2.5"/><circle cx="215.42" cy="755.21" r="2.5"/><circle cx="218.20" cy="754.57" r="2.5"/><circle cx="220.98" cy="758.44" r="2.5"/><circle cx="223.76" cy="759.65" r="2.5"/><circle cx="226.54" cy="761.67" r="2.5"/><circle cx="229.32" cy="762.43" r="2.5"/><circle cx="232.10" cy="765.11" r="2.5"/><circle cx="234.88" cy="767.94" r="2.5"/><circle cx="237.66" cy="769.14" r="2.5"/><circle cx="240.44" cy="771.11" r="2.5"/><circle cx="243.22" cy="772.66" r="2.5"/><circle cx="247.30" cy="773.60" r="2.5"/><circle cx="250.10" cy="778.10" r="2.5"/><circle cx="254.00" cy="780.90" r="2.5"/><circle cx="258.60" cy="782.60" r="2.5"/><circle cx="260.80" cy="786.50" r="2.5"/><circle cx="265.90" cy="786.50" r="2.5"/><circle cx="268.70" cy="790.50" r="2.5"/><circle cx="270.40" cy="794.40" r="2.5"/><circle cx="274.40" cy="795.60" r="2.5"/><circle cx="276.60" cy="800.10" r="2.5"/><circle cx="278.90" cy="803.50" r="2.5"/><circle cx="282.30" cy="802.30" r="2.5"/><circle cx="284.00" cy="805.70" r="2.5"/><circle cx="287.90" cy="807.40" r="2.5"/><circle cx="290.20" cy="811.40" r="2.5"/><circle cx="294.10" cy="814.80" r="2.5"/><circle cx="297.50" cy="815.30" r="2.5"/><circle cx="299.20" cy="818.70" r="2.5"/><circle cx="302.60" cy="823.80" r="2.5"/><circle cx="306.00" cy="822.10" r="2.5"/><circle cx="307.70" cy="825.50" r="2.5"/><circle cx="311.60" cy="824.90" r="2.5"/><circle cx="313.90" cy="831.10" r="2.5"/><circle cx="317.30" cy="834.50" r="2.5"/><circle cx="321.80" cy="834.00" r="2.5"/><circle cx="324.00" cy="837.90" r="2.5"/><circle cx="326.30" cy="845.30" r="2.5"/><circle cx="329.70" cy="843.60" r="2.5"/><circle cx="332.10" cy="848.60" r="2.5"/><circle cx="334.10" cy="853.30" r="2.5"/><circle cx="339.80" cy="847.10" r="2.5"/><circle cx="336.70" cy="852.20" r="2.5"/><circle cx="342.20" cy="857.40" r="2.5"/><circle cx="345.30" cy="857.10" r="2.5"/><circle cx="347.10" cy="863.60" r="2.5"/><circle cx="350.70" cy="862.60" r="2.5"/><circle cx="352.80" cy="867.30" r="2.5"/><circle cx="355.90" cy="862.90" r="2.5"/><circle cx="357.90" cy="871.90" r="2.5"/><circle cx="361.00" cy="866.70" r="2.5"/><circle cx="363.60" cy="868.30" r="2.5"/><circle cx="366.20" cy="872.90" r="2.5"/><circle cx="368.80" cy="880.20" r="2.5"/><circle cx="371.90" cy="877.10" r="2.5"/><circle cx="374.00" cy="882.30" r="2.5"/><circle cx="377.10" cy="879.70" r="2.5"/><circle cx="379.50" cy="886.90" r="2.5"/><circle cx="381.70" cy="882.30" r="2.5"/><circle cx="384.80" cy="881.70" r="2.5"/><circle cx="386.90" cy="885.90" r="2.5"/><circle cx="390.00" cy="883.80" r="2.5"/><circle cx="392.60" cy="887.90" r="2.5"/><circle cx="395.20" cy="893.60" r="2.5"/><circle cx="398.10" cy="886.90" r="2.5"/><circle cx="400.40" cy="894.20" r="2.5"/><circle cx="403.30" cy="889.00" r="2.5"/><circle cx="406.10" cy="896.70" r="2.5"/><circle cx="408.10" cy="901.40" r="2.5"/><circle cx="411.20" cy="899.30" r="2.5"/><circle cx="413.80" cy="898.30" r="2.5"/><circle cx="416.40" cy="907.10" r="2.5"/><circle cx="419.00" cy="890.00" r="2.5"/><circle cx="421.60" cy="901.40" r="2.5"/><circle cx="424.20" cy="919.50" r="2.5"/><circle cx="426.80" cy="898.10" r="2.5"/><circle cx="429.30" cy="907.60" r="2.5"/><circle cx="432.40" cy="898.10" r="2.5"/><circle cx="435.90" cy="898.10" r="2.5"/><circle cx="437.60" cy="906.30" r="2.5"/><circle cx="439.90" cy="915.70" r="2.5"/><circle cx="442.50" cy="919.80" r="2.5"/><circle cx="445.40" cy="911.60" r="2.5"/><circle cx="448.00" cy="923.20" r="2.5"/><circle cx="450.50" cy="889.40" r="2.5"/><circle cx="453.30" cy="910.30" r="2.5"/><circle cx="455.90" cy="943.10" r="2.5"/><circle cx="458.50" cy="914.60" r="2.5"/><circle cx="461.20" cy="916.50" r="2.5"/><circle cx="463.70" cy="930.40" r="2.5"/><circle cx="466.50" cy="911.80" r="2.5"/><circle cx="469.10" cy="927.60" r="2.5"/><circle cx="471.70" cy="920.00" r="2.5"/><circle cx="474.50" cy="923.80" r="2.5"/><circle cx="477.20" cy="927.00" r="2.5"/><circle cx="479.70" cy="906.10" r="2.5"/><circle cx="482.20" cy="923.20" r="2.5"/><circle cx="484.90" cy="909.10" r="2.5"/><circle cx="487.50" cy="924.70" r="2.5"/><circle cx="490.30" cy="924.50" r="2.5"/><circle cx="492.90" cy="918.20" r="2.5"/><circle cx="495.50" cy="910.30" r="2.5"/><circle cx="497.90" cy="922.90" r="2.5"/><circle cx="500.70" cy="920.20" r="2.5"/><circle cx="503.20" cy="927.30" r="2.5"/><circle cx="506.00" cy="909.40" r="2.5"/><circle cx="508.60" cy="923.50" r="2.5"/><circle cx="511.20" cy="927.00" r="2.5"/><circle cx="513.90" cy="942.10" r="2.5"/><circle cx="516.40" cy="915.00" r="2.5"/><circle cx="519.00" cy="922.10" r="2.5"/><circle cx="521.80" cy="917.90" r="2.5"/><circle cx="524.40" cy="915.00" r="2.5"/><circle cx="527.00" cy="922.60" r="2.5"/><circle cx="529.60" cy="914.60" r="2.5"/><circle cx="532.40" cy="900.70" r="2.5"/><circle cx="534.90" cy="908.20" r="2.5"/><circle cx="537.60" cy="916.50" r="2.5"/><circle cx="540.20" cy="918.50" r="2.5"/><circle cx="542.70" cy="905.60" r="2.5"/><circle cx="544.60" cy="907.50" r="2.5"/><circle cx="548.30" cy="923.50" r="2.5"/><circle cx="550.80" cy="916.90" r="2.5"/><circle cx="553.40" cy="908.70" r="2.5"/><circle cx="556.20" cy="915.50" r="2.5"/><circle cx="558.80" cy="914.40" r="2.5"/><circle cx="561.20" cy="907.00" r="2.5"/><circle cx="564.00" cy="909.10" r="2.5"/><circle cx="566.50" cy="930.10" r="2.5"/><circle cx="569.20" cy="924.90" r="2.5"/><circle cx="571.80" cy="915.00" r="2.5"/><circle cx="574.60" cy="926.80" r="2.5"/><circle cx="577.20" cy="912.90" r="2.5"/><circle cx="580.00" cy="916.00" r="2.5"/><circle cx="582.30" cy="906.60" r="2.5"/><circle cx="585.20" cy="905.90" r="2.5"/><circle cx="587.50" cy="936.00" r="2.5"/><circle cx="590.30" cy="920.20" r="2.5"/><circle cx="592.90" cy="924.00" r="2.5"/><circle cx="595.50" cy="908.20" r="2.5"/><circle cx="598.30" cy="922.60" r="2.5"/><circle cx="601.00" cy="916.00" r="2.5"/><circle cx="603.50" cy="904.20" r="2.5"/><circle cx="606.10" cy="911.90" r="2.5"/><circle cx="608.50" cy="917.90" r="2.5"/><circle cx="611.30" cy="916.90" r="2.5"/><circle cx="613.90" cy="917.20" r="2.5"/><circle cx="616.40" cy="908.70" r="2.5"/><circle cx="619.00" cy="924.00" r="2.5"/><circle cx="621.90" cy="906.60" r="2.5"/><circle cx="624.50" cy="916.00" r="2.5"/><circle cx="627.00" cy="902.20" r="2.5"/><circle cx="629.90" cy="904.70" r="2.5"/><circle cx="632.40" cy="917.40" r="2.5"/><circle cx="635.00" cy="936.20" r="2.5"/><circle cx="637.90" cy="915.00" r="2.5"/><circle cx="640.20" cy="900.90" r="2.5"/><circle cx="643.00" cy="908.00" r="2.5"/><circle cx="645.60" cy="917.90" r="2.5"/></g>
<path d="M107.00,590.73 L108.00,592.36 L109.00,594.03 L110.00,595.72 L111.00,597.44 L112.00,599.19 L113.00,600.96 L114.00,602.76 L115.00,604.58 L116.00,606.43 L117.00,608.30 L118.00,610.18 L119.00,612.09 L120.00,614.01 L121.00,615.95 L122.00,617.91 L123.00,619.87 L124.00,621.85 L125.00,623.84 L126.00,625.85 L127.00,627.85 L128.00,629.87 L129.00,631.89 L130.00,633.92 L131.00,635.95 L132.00,637.98 L133.00,640.01 L134.00,642.04 L135.00,644.07 L136.00,646.10 L137.00,648.12 L138.00,650.14 L139.00,652.15 L140.00,654.15 L141.00,656.14 L142.00,658.12 L143.00,660.09 L144.00,662.04 L145.00,663.99 L146.00,665.91 L147.00,667.82 L148.00,669.71 L149.00,671.58 L150.00,673.42 L151.00,675.25 L152.00,677.05 L153.00,678.83 L154.00,680.59 L155.00,682.33 L156.00,684.04 L157.00,685.74 L158.00,687.41 L159.00,689.06 L160.00,690.69 L161.00,692.30 L162.00,693.89 L163.00,695.45 L164.00,697.00 L165.00,698.53 L166.00,700.04 L167.00,701.52 L168.00,702.99 L169.00,704.44 L170.00,705.87 L171.00,707.28 L172.00,708.67 L173.00,710.04 L174.00,711.39 L175.00,712.73 L176.00,714.04 L177.00,715.34 L178.00,716.62 L179.00,717.89 L180.00,719.13 L181.00,720.36 L182.00,721.57 L183.00,722.76 L184.00,723.94 L185.00,725.10 L186.00,726.24 L187.00,727.37 L188.00,728.48 L189.00,729.58 L190.00,730.66 L191.00,731.72 L192.00,732.77 L193.00,733.81 L194.00,734.82 L195.00,735.83 L196.00,736.82 L197.00,737.79 L198.00,738.75 L199.00,739.70 L200.00,740.63 L201.00,741.56 L202.00,742.46 L203.00,743.36 L204.00,744.24 L205.00,745.12 L206.00,745.98 L207.00,746.83 L208.00,747.67 L209.00,748.50 L210.00,749.31 L211.00,750.12 L212.00,750.92 L213.00,751.71 L214.00,752.50 L215.00,753.27 L216.00,754.03 L217.00,754.79 L218.00,755.54 L219.00,756.28 L220.00,757.02 L221.00,757.75 L222.00,758.47 L223.00,759.18 L224.00,759.89 L225.00,760.60 L226.00,761.30 L227.00,762.00 L228.00,762.69 L229.00,763.37 L230.00,764.06 L231.00,764.74 L232.00,765.41 L233.00,766.09 L234.00,766.76 L235.00,767.43 L236.00,768.10 L237.00,768.76 L238.00,769.43 L239.00,770.09 L240.00,770.75 L241.00,771.42 L242.00,772.08 L243.00,772.74 L244.00,773.41 L245.00,774.07 L246.00,774.74 L247.00,775.41 L248.00,776.08 L249.00,776.75 L250.00,777.42 L251.00,778.10 L252.00,778.78 L253.00,779.47 L254.00,780.16 L255.00,780.85 L256.00,781.55 L257.00,782.25 L258.00,782.95 L259.00,783.67 L260.00,784.38 L261.00,785.11 L262.00,785.84 L263.00,786.58 L264.00,787.32 L265.00,788.07 L266.00,788.83 L267.00,789.60 L268.00,790.38 L269.00,791.16 L270.00,791.95 L271.00,792.75 L272.00,793.56 L273.00,794.38 L274.00,795.20 L275.00,796.03 L276.00,796.87 L277.00,797.71 L278.00,798.56 L279.00,799.42 L280.00,800.28 L281.00,801.15 L282.00,802.02 L283.00,802.90 L284.00,803.79 L285.00,804.68 L286.00,805.57 L287.00,806.47 L288.00,807.37 L289.00,808.28 L290.00,809.19 L291.00,810.11 L292.00,811.03 L293.00,811.95 L294.00,812.87 L295.00,813.80 L296.00,814.73 L297.00,815.67 L298.00,816.60 L299.00,817.54 L300.00,818.48 L301.00,819.42 L302.00,820.36 L303.00,821.31 L304.00,822.25 L305.00,823.20 L306.00,824.14 L307.00,825.09 L308.00,826.04 L309.00,826.98 L310.00,827.93 L311.00,828.87 L312.00,829.82 L313.00,830.76 L314.00,831.70 L315.00,832.65 L316.00,833.59 L317.00,834.52 L318.00,835.46 L319.00,836.39 L320.00,837.32 L321.00,838.25 L322.00,839.18 L323.00,840.10 L324.00,841.02 L325.00,841.94 L326.00,842.85 L327.00,843.76 L328.00,844.66 L329.00,845.56 L330.00,846.46 L331.00,847.35 L332.00,848.23 L333.00,849.11 L334.00,849.99 L335.00,850.86 L336.00,851.72 L337.00,852.58 L338.00,853.43 L339.00,854.28 L340.00,855.11 L341.00,855.95 L342.00,856.77 L343.00,857.59 L344.00,858.40 L345.00,859.20 L346.00,859.99 L347.00,860.78 L348.00,861.56 L349.00,862.32 L350.00,863.08 L351.00,863.83 L352.00,864.58 L353.00,865.31 L354.00,866.03 L355.00,866.75 L356.00,867.46 L357.00,868.15 L358.00,868.85 L359.00,869.53 L360.00,870.20 L361.00,870.87 L362.00,871.53 L363.00,872.18 L364.00,872.83 L365.00,873.47 L366.00,874.10 L367.00,874.72 L368.00,875.34 L369.00,875.95 L370.00,876.56 L371.00,877.16 L372.00,877.75 L373.00,878.34 L374.00,878.92 L375.00,879.50 L376.00,880.07 L377.00,880.64 L378.00,881.20 L379.00,881.76 L380.00,882.31 L381.00,882.86 L382.00,883.40 L383.00,883.94 L384.00,884.48 L385.00,885.01 L386.00,885.54 L387.00,886.07 L388.00,886.59 L389.00,887.11 L390.00,887.63 L391.00,888.14 L392.00,888.65 L393.00,889.16 L394.00,889.67 L395.00,890.17 L396.00,890.67 L397.00,891.17 L398.00,891.66 L399.00,892.16 L400.00,892.65 L401.00,893.13 L402.00,893.61 L403.00,894.09 L404.00,894.57 L405.00,895.04 L406.00,895.51 L407.00,895.98 L408.00,896.44 L409.00,896.90 L410.00,897.35 L411.00,897.80 L412.00,898.25 L413.00,898.69 L414.00,899.12 L415.00,899.56 L416.00,899.99 L417.00,900.41 L418.00,900.83 L419.00,901.24 L420.00,901.65 L421.00,902.05 L422.00,902.45 L423.00,902.85 L424.00,903.24 L425.00,903.62 L426.00,904.00 L427.00,904.37 L428.00,904.74 L429.00,905.10 L430.00,905.45 L431.00,905.80 L432.00,906.14 L433.00,906.48 L434.00,906.81 L435.00,907.14 L436.00,907.46 L437.00,907.77 L438.00,908.08 L439.00,908.37 L440.00,908.67 L441.00,908.96 L442.00,909.24 L443.00,909.51 L444.00,909.78 L445.00,910.04 L446.00,910.30 L447.00,910.55 L448.00,910.80 L449.00,911.03 L450.00,911.26 L451.00,911.49 L452.00,911.71 L453.00,911.92 L454.00,912.13 L455.00,912.33 L456.00,912.52 L457.00,912.71 L458.00,912.90 L459.00,913.07 L460.00,913.24 L461.00,913.41 L462.00,913.56 L463.00,913.71 L464.00,913.86 L465.00,914.00 L466.00,914.13 L467.00,914.26 L468.00,914.38 L469.00,914.49 L470.00,914.60 L471.00,914.70 L472.00,914.80 L473.00,914.89 L474.00,914.97 L475.00,915.05 L476.00,915.12 L477.00,915.19 L478.00,915.25 L479.00,915.30 L480.00,915.36 L481.00,915.40 L482.00,915.44 L483.00,915.48 L484.00,915.51 L485.00,915.54 L486.00,915.56 L487.00,915.58 L488.00,915.60 L489.00,915.61 L490.00,915.62 L491.00,915.62 L492.00,915.63 L493.00,915.63 L494.00,915.62 L495.00,915.62 L496.00,915.61 L497.00,915.60 L498.00,915.59 L499.00,915.57 L500.00,915.56 L501.00,915.54 L502.00,915.52 L503.00,915.50 L504.00,915.48 L505.00,915.45 L506.00,915.43 L507.00,915.41 L508.00,915.38 L509.00,915.36 L510.00,915.33 L511.00,915.31 L512.00,915.28 L513.00,915.26 L514.00,915.24 L515.00,915.21 L516.00,915.19 L517.00,915.17 L518.00,915.15 L519.00,915.14 L520.00,915.12 L521.00,915.10 L522.00,915.09 L523.00,915.08 L524.00,915.07 L525.00,915.07 L526.00,915.06 L527.00,915.06 L528.00,915.06 L529.00,915.07 L530.00,915.08 L531.00,915.09 L532.00,915.11 L533.00,915.13 L534.00,915.15 L535.00,915.18 L536.00,915.21 L537.00,915.24 L538.00,915.28 L539.00,915.32 L540.00,915.37 L541.00,915.42 L542.00,915.48 L543.00,915.54 L544.00,915.60 L545.00,915.66 L546.00,915.73 L547.00,915.81 L548.00,915.89 L549.00,915.97 L550.00,916.05 L551.00,916.14 L552.00,916.23 L553.00,916.33 L554.00,916.43 L555.00,916.53 L556.00,916.64 L557.00,916.75 L558.00,916.87 L559.00,916.98 L560.00,917.11 L561.00,917.23 L562.00,917.36 L563.00,917.49 L564.00,917.63 L565.00,917.76 L566.00,917.91 L567.00,918.05 L568.00,918.20 L569.00,918.35 L570.00,918.51 L571.00,918.67 L572.00,918.83 L573.00,918.99 L574.00,919.16 L575.00,919.33 L576.00,919.51 L577.00,919.69 L578.00,919.87 L579.00,920.05 L580.00,920.24 L581.00,920.43 L582.00,920.62 L583.00,920.82 L584.00,921.02 L585.00,921.22 L586.00,921.42 L587.00,921.63 L588.00,921.84 L589.00,922.06 L590.00,922.28 L591.00,922.50 L592.00,922.72 L593.00,922.94 L594.00,923.17 L595.00,923.40 L596.00,923.64 L597.00,923.87 L598.00,924.11 L599.00,924.36 L600.00,924.60 L601.00,924.85 L602.00,925.10 L603.00,925.35 L604.00,925.61 L605.00,925.86 L606.00,926.13 L607.00,926.39 L608.00,926.65 L609.00,926.92 L610.00,927.19 L611.00,927.47 L612.00,927.74 L613.00,928.02 L614.00,928.30 L615.00,928.58 L616.00,928.87 L617.00,929.15 L618.00,929.44 L619.00,929.74 L620.00,930.03 L621.00,930.33 L622.00,930.62 L623.00,930.93 L624.00,931.23 L625.00,931.53 L626.00,931.84 L627.00,932.15 L628.00,932.46 L629.00,932.78 L630.00,933.09 L631.00,933.41 L632.00,933.73 L633.00,934.05 L634.00,934.37 L635.00,934.70 L636.00,935.03 L637.00,935.36 L638.00,935.69 L639.00,936.02 L640.00,936.36 L641.00,936.69 L642.00,937.03 L643.00,937.37 L644.00,937.72 L645.00,938.06 L646.00,938.41 L647.00,938.75 L647.80,939.03" fill="none" stroke="#111" stroke-width="1.5"/>
<g fill="#91ffff"><rect x="826.30" y="417.00" width="4.6" height="6.60" rx="1.1"/><rect x="835.76" y="410.20" width="4.6" height="13.40" rx="1.1"/><rect x="845.22" y="394.10" width="4.6" height="29.50" rx="1.1"/><rect x="854.68" y="362.30" width="4.6" height="61.30" rx="1.1"/><rect x="864.14" y="322.60" width="4.6" height="101.00" rx="1.1"/><rect x="873.60" y="282.60" width="4.6" height="141.00" rx="1.1"/><rect x="883.06" y="260.20" width="4.6" height="163.40" rx="1.1"/><rect x="892.52" y="260.70" width="4.6" height="162.90" rx="1.1"/><rect x="901.98" y="286.30" width="4.6" height="137.30" rx="1.1"/><rect x="911.44" y="325.30" width="4.6" height="98.30" rx="1.1"/><rect x="920.90" y="369.10" width="4.6" height="54.50" rx="1.1"/><rect x="930.36" y="398.40" width="4.6" height="25.20" rx="1.1"/><rect x="939.82" y="413.40" width="4.6" height="10.20" rx="1.1"/><rect x="949.28" y="420.20" width="4.6" height="3.40" rx="1.1"/><rect x="977.66" y="420.00" width="4.6" height="3.60" rx="1.1"/><rect x="987.12" y="414.70" width="4.6" height="8.90" rx="1.1"/><rect x="996.58" y="403.20" width="4.6" height="20.40" rx="1.1"/><rect x="1006.04" y="385.90" width="4.6" height="37.70" rx="1.1"/><rect x="1015.50" y="355.90" width="4.6" height="67.70" rx="1.1"/><rect x="1024.96" y="319.60" width="4.6" height="104.00" rx="1.1"/><rect x="1034.42" y="286.50" width="4.6" height="137.10" rx="1.1"/><rect x="1043.88" y="272.50" width="4.6" height="151.10" rx="1.1"/><rect x="1053.34" y="275.00" width="4.6" height="148.60" rx="1.1"/><rect x="1062.80" y="299.40" width="4.6" height="124.20" rx="1.1"/><rect x="1072.26" y="335.10" width="4.6" height="88.50" rx="1.1"/><rect x="1081.72" y="370.60" width="4.6" height="53.00" rx="1.1"/><rect x="1091.18" y="394.40" width="4.6" height="29.20" rx="1.1"/><rect x="1100.64" y="404.50" width="4.6" height="19.10" rx="1.1"/><rect x="1110.10" y="403.00" width="4.6" height="20.60" rx="1.1"/><rect x="1119.56" y="387.80" width="4.6" height="35.80" rx="1.1"/><rect x="1129.02" y="372.20" width="4.6" height="51.40" rx="1.1"/><rect x="1138.48" y="358.90" width="4.6" height="64.70" rx="1.1"/><rect x="1147.94" y="351.10" width="4.6" height="72.50" rx="1.1"/><rect x="1157.40" y="346.70" width="4.6" height="76.90" rx="1.1"/><rect x="1166.86" y="347.20" width="4.6" height="76.40" rx="1.1"/><rect x="1176.32" y="346.70" width="4.6" height="76.90" rx="1.1"/><rect x="1185.78" y="345.20" width="4.6" height="78.40" rx="1.1"/><rect x="1195.24" y="345.60" width="4.6" height="78.00" rx="1.1"/><rect x="1204.70" y="348.10" width="4.6" height="75.50" rx="1.1"/><rect x="1214.16" y="356.30" width="4.6" height="67.30" rx="1.1"/><rect x="1223.62" y="368.50" width="4.6" height="55.10" rx="1.1"/><rect x="1233.08" y="379.80" width="4.6" height="43.80" rx="1.1"/><rect x="1242.54" y="390.00" width="4.6" height="33.60" rx="1.1"/><rect x="1252.00" y="394.90" width="4.6" height="28.70" rx="1.1"/><rect x="1261.46" y="400.30" width="4.6" height="23.30" rx="1.1"/><rect x="1270.92" y="403.50" width="4.6" height="20.10" rx="1.1"/><rect x="1280.38" y="406.20" width="4.6" height="17.40" rx="1.1"/><rect x="1289.84" y="407.90" width="4.6" height="15.70" rx="1.1"/><rect x="1299.30" y="412.10" width="4.6" height="11.50" rx="1.1"/><rect x="1308.76" y="415.20" width="4.6" height="8.40" rx="1.1"/><rect x="1318.22" y="418.40" width="4.6" height="5.20" rx="1.1"/><rect x="1327.68" y="420.40" width="4.6" height="3.20" rx="1.1"/></g>
<g fill="#0000bc"><rect x="848.62" y="419.10" width="4.6" height="4.50" rx="1.1"/><rect x="858.08" y="411.30" width="4.6" height="12.30" rx="1.1"/><rect x="867.54" y="398.40" width="4.6" height="25.20" rx="1.1"/><rect x="877.00" y="391.60" width="4.6" height="32.00" rx="1.1"/><rect x="886.46" y="385.70" width="4.6" height="37.90" rx="1.1"/><rect x="895.92" y="382.70" width="4.6" height="40.90" rx="1.1"/><rect x="905.38" y="387.90" width="4.6" height="35.70" rx="1.1"/><rect x="914.84" y="400.90" width="4.6" height="22.70" rx="1.1"/><rect x="924.30" y="407.70" width="4.6" height="15.90" rx="1.1"/><rect x="933.76" y="413.80" width="4.6" height="9.80" rx="1.1"/><rect x="943.22" y="418.80" width="4.6" height="4.80" rx="1.1"/><rect x="1037.82" y="421.00" width="4.6" height="2.60" rx="1.1"/><rect x="1047.28" y="419.30" width="4.6" height="4.30" rx="1.1"/><rect x="1056.74" y="419.30" width="4.6" height="4.30" rx="1.1"/><rect x="1066.20" y="419.30" width="4.6" height="4.30" rx="1.1"/><rect x="1075.66" y="419.40" width="4.6" height="4.20" rx="1.1"/><rect x="1085.12" y="420.10" width="4.6" height="3.50" rx="1.1"/><rect x="1094.58" y="420.90" width="4.6" height="2.70" rx="1.1"/><rect x="1104.04" y="418.20" width="4.6" height="5.40" rx="1.1"/><rect x="1113.50" y="411.80" width="4.6" height="11.80" rx="1.1"/><rect x="1122.96" y="393.20" width="4.6" height="30.40" rx="1.1"/><rect x="1132.42" y="378.30" width="4.6" height="45.30" rx="1.1"/><rect x="1141.88" y="345.70" width="4.6" height="77.90" rx="1.1"/><rect x="1151.34" y="303.40" width="4.6" height="120.20" rx="1.1"/><rect x="1160.80" y="299.00" width="4.6" height="124.60" rx="1.1"/><rect x="1170.26" y="308.30" width="4.6" height="115.30" rx="1.1"/><rect x="1179.72" y="289.20" width="4.6" height="134.40" rx="1.1"/><rect x="1189.18" y="258.10" width="4.6" height="165.50" rx="1.1"/><rect x="1198.64" y="262.00" width="4.6" height="161.60" rx="1.1"/><rect x="1208.10" y="232.40" width="4.6" height="191.20" rx="1.1"/><rect x="1217.56" y="207.90" width="4.6" height="215.70" rx="1.1"/><rect x="1227.02" y="187.10" width="4.6" height="236.50" rx="1.1"/><rect x="1236.48" y="199.80" width="4.6" height="223.80" rx="1.1"/><rect x="1245.94" y="235.50" width="4.6" height="188.10" rx="1.1"/><rect x="1255.40" y="251.90" width="4.6" height="171.70" rx="1.1"/><rect x="1264.86" y="264.40" width="4.6" height="159.20" rx="1.1"/><rect x="1274.32" y="308.40" width="4.6" height="115.20" rx="1.1"/><rect x="1283.78" y="351.90" width="4.6" height="71.70" rx="1.1"/><rect x="1293.24" y="349.70" width="4.6" height="73.90" rx="1.1"/><rect x="1302.70" y="372.90" width="4.6" height="50.70" rx="1.1"/><rect x="1312.16" y="394.00" width="4.6" height="29.60" rx="1.1"/><rect x="1321.62" y="405.20" width="4.6" height="18.40" rx="1.1"/><rect x="1331.08" y="412.80" width="4.6" height="10.80" rx="1.1"/></g>
<line x1="805.65" y1="422.40" x2="1347.00" y2="422.40" stroke="#1a1a1a" stroke-width="1.6"/>
<g fill="#efc6c7"><rect x="817.25" y="965.10" width="4.5" height="4.80" rx="1.1"/><rect x="826.72" y="963.80" width="4.5" height="6.10" rx="1.1"/><rect x="836.20" y="960.20" width="4.5" height="9.70" rx="1.1"/><rect x="845.67" y="956.40" width="4.5" height="13.50" rx="1.1"/><rect x="855.14" y="948.30" width="4.5" height="21.60" rx="1.1"/><rect x="864.62" y="943.10" width="4.5" height="26.80" rx="1.1"/><rect x="874.09" y="938.50" width="4.5" height="31.40" rx="1.1"/><rect x="883.56" y="936.10" width="4.5" height="33.80" rx="1.1"/><rect x="893.03" y="930.90" width="4.5" height="39.00" rx="1.1"/><rect x="902.51" y="926.70" width="4.5" height="43.20" rx="1.1"/><rect x="911.98" y="923.50" width="4.5" height="46.40" rx="1.1"/><rect x="921.45" y="918.00" width="4.5" height="51.90" rx="1.1"/><rect x="930.93" y="917.40" width="4.5" height="52.50" rx="1.1"/><rect x="940.40" y="918.00" width="4.5" height="51.90" rx="1.1"/><rect x="949.87" y="919.50" width="4.5" height="50.40" rx="1.1"/><rect x="959.35" y="914.10" width="4.5" height="55.80" rx="1.1"/><rect x="968.82" y="905.30" width="4.5" height="64.60" rx="1.1"/><rect x="978.29" y="888.50" width="4.5" height="81.40" rx="1.1"/><rect x="987.76" y="873.20" width="4.5" height="96.70" rx="1.1"/><rect x="997.24" y="861.60" width="4.5" height="108.30" rx="1.1"/><rect x="1006.71" y="859.40" width="4.5" height="110.50" rx="1.1"/><rect x="1016.18" y="860.10" width="4.5" height="109.80" rx="1.1"/><rect x="1025.66" y="860.10" width="4.5" height="109.80" rx="1.1"/><rect x="1035.13" y="867.40" width="4.5" height="102.50" rx="1.1"/><rect x="1044.60" y="869.90" width="4.5" height="100.00" rx="1.1"/><rect x="1054.08" y="872.50" width="4.5" height="97.40" rx="1.1"/><rect x="1063.55" y="879.60" width="4.5" height="90.30" rx="1.1"/><rect x="1073.02" y="884.20" width="4.5" height="85.70" rx="1.1"/><rect x="1082.49" y="882.00" width="4.5" height="87.90" rx="1.1"/><rect x="1091.97" y="879.50" width="4.5" height="90.40" rx="1.1"/><rect x="1101.44" y="874.00" width="4.5" height="95.90" rx="1.1"/><rect x="1110.91" y="865.60" width="4.5" height="104.30" rx="1.1"/><rect x="1120.39" y="863.00" width="4.5" height="106.90" rx="1.1"/><rect x="1129.86" y="863.80" width="4.5" height="106.10" rx="1.1"/><rect x="1139.33" y="864.20" width="4.5" height="105.70" rx="1.1"/><rect x="1148.81" y="865.50" width="4.5" height="104.40" rx="1.1"/><rect x="1158.28" y="871.80" width="4.5" height="98.10" rx="1.1"/><rect x="1167.75" y="879.80" width="4.5" height="90.10" rx="1.1"/><rect x="1177.22" y="891.20" width="4.5" height="78.70" rx="1.1"/><rect x="1186.70" y="907.50" width="4.5" height="62.40" rx="1.1"/><rect x="1196.17" y="922.40" width="4.5" height="47.50" rx="1.1"/><rect x="1205.64" y="934.40" width="4.5" height="35.50" rx="1.1"/><rect x="1215.12" y="944.90" width="4.5" height="25.00" rx="1.1"/><rect x="1224.59" y="950.30" width="4.5" height="19.60" rx="1.1"/><rect x="1234.06" y="953.00" width="4.5" height="16.90" rx="1.1"/><rect x="1243.54" y="955.40" width="4.5" height="14.50" rx="1.1"/><rect x="1253.01" y="957.40" width="4.5" height="12.50" rx="1.1"/><rect x="1262.48" y="958.50" width="4.5" height="11.40" rx="1.1"/><rect x="1271.95" y="959.00" width="4.5" height="10.90" rx="1.1"/><rect x="1281.43" y="962.00" width="4.5" height="7.90" rx="1.1"/><rect x="1290.90" y="963.90" width="4.5" height="6.00" rx="1.1"/><rect x="1300.37" y="964.70" width="4.5" height="5.20" rx="1.1"/><rect x="1309.85" y="965.30" width="4.5" height="4.60" rx="1.1"/></g>
<g fill="#da0000"><rect x="943.40" y="965.40" width="4.5" height="4.50" rx="1.1"/><rect x="952.87" y="956.40" width="4.5" height="13.50" rx="1.1"/><rect x="962.35" y="881.00" width="4.5" height="88.90" rx="1.1"/><rect x="971.82" y="755.60" width="4.5" height="214.30" rx="1.1"/><rect x="981.29" y="671.80" width="4.5" height="298.10" rx="1.1"/><rect x="990.76" y="613.40" width="4.5" height="356.50" rx="1.1"/><rect x="1000.24" y="579.50" width="4.5" height="390.40" rx="1.1"/><rect x="1009.71" y="622.80" width="4.5" height="347.10" rx="1.1"/><rect x="1019.18" y="735.50" width="4.5" height="234.40" rx="1.1"/><rect x="1028.66" y="809.10" width="4.5" height="160.80" rx="1.1"/><rect x="1038.13" y="860.40" width="4.5" height="109.50" rx="1.1"/><rect x="1047.60" y="900.20" width="4.5" height="69.70" rx="1.1"/><rect x="1057.08" y="932.00" width="4.5" height="37.90" rx="1.1"/><rect x="1066.55" y="944.30" width="4.5" height="25.60" rx="1.1"/><rect x="1076.02" y="953.40" width="4.5" height="16.50" rx="1.1"/><rect x="1085.49" y="959.30" width="4.5" height="10.60" rx="1.1"/><rect x="1094.97" y="947.30" width="4.5" height="22.60" rx="1.1"/><rect x="1104.44" y="933.50" width="4.5" height="36.40" rx="1.1"/><rect x="1113.91" y="925.00" width="4.5" height="44.90" rx="1.1"/><rect x="1123.39" y="913.30" width="4.5" height="56.60" rx="1.1"/><rect x="1132.86" y="879.10" width="4.5" height="90.80" rx="1.1"/><rect x="1142.33" y="873.20" width="4.5" height="96.70" rx="1.1"/><rect x="1151.81" y="885.90" width="4.5" height="84.00" rx="1.1"/><rect x="1161.28" y="893.40" width="4.5" height="76.50" rx="1.1"/><rect x="1170.75" y="906.00" width="4.5" height="63.90" rx="1.1"/><rect x="1180.22" y="944.00" width="4.5" height="25.90" rx="1.1"/><rect x="1189.70" y="965.40" width="4.5" height="4.50" rx="1.1"/><rect x="1199.17" y="967.30" width="4.5" height="2.60" rx="1.1"/></g>
<line x1="805.85" y1="968.70" x2="1346.80" y2="968.70" stroke="#1a1a1a" stroke-width="1.6"/>
</svg></body></html>
